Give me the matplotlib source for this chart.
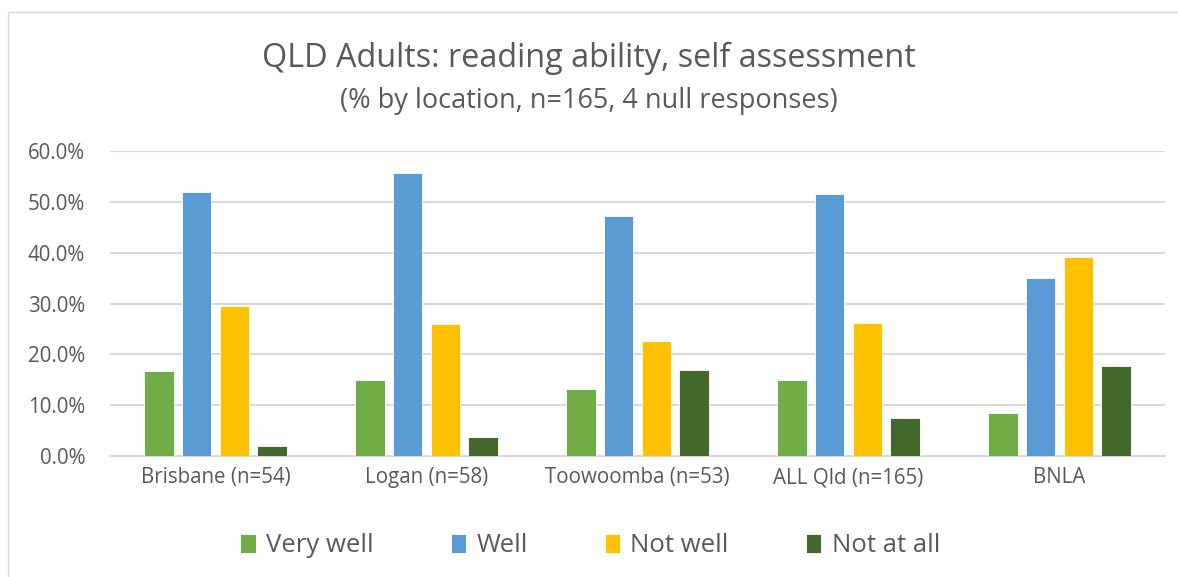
import matplotlib.pyplot as plt
import numpy as np
from matplotlib.patches import Rectangle

plt.rcParams['font.family'] = ['Open Sans', 'DejaVu Sans']

locations = ['Brisbane (n=54)', 'Logan (n=58)', 'Toowoomba (n=53)', 'ALL Qld (n=165)', 'BNLA']
very_well = [16.7, 14.9, 13.2, 15.0, 8.4]
well = [51.9, 55.6, 47.2, 51.6, 35.0]
not_well = [29.6, 25.9, 22.6, 26.1, 39.1]
not_at_all = [1.9, 3.7, 17.0, 7.5, 17.7]

series = [('Very well', very_well, '#70AD47'),
          ('Well', well, '#5B9BD5'),
          ('Not well', not_well, '#FFC000'),
          ('Not at all', not_at_all, '#43682B')]

W, H = 1178, 577
fig = plt.figure(figsize=(W / 100, H / 100), dpi=100)
ax = fig.add_axes([110 / W, 1 - 456 / H, (1165 - 110) / W, (456 - 151) / H])

x = np.arange(len(locations))
pitch = 0.18
width = 0.142
for i, (name, vals, col) in enumerate(series):
    ax.bar(x + (i - 1.5) * pitch, vals, width, color=col, label=name,
           edgecolor='white', linewidth=0.6, zorder=3)

ax.set_xlim(-0.5, len(locations) - 0.5)
ax.set_ylim(0, 60)
ax.set_yticks(np.arange(0, 61, 10))
ax.set_yticklabels([f'{v:.1f}%' for v in range(0, 61, 10)])
ax.set_xticks(x)
ax.set_xticklabels(locations)
ax.tick_params(axis='both', length=0, labelsize=14.8, colors='#595959')
ax.tick_params(axis='x', pad=8)
ax.tick_params(axis='y', pad=18)
ax.grid(axis='y', color='#D9D9D9', linewidth=1.5, zorder=0)
for s in ['top', 'right', 'left']:
    ax.spines[s].set_visible(False)
ax.spines['bottom'].set_color('#D9D9D9')
ax.spines['bottom'].set_linewidth(1.5)

fig.text(0.5, 1 - 58 / H, 'QLD Adults: reading ability, self assessment',
         ha='center', va='center', fontsize=23.3, color='#595959')
fig.text(0.5, 1 - 101 / H, '(% by location, n=165, 4 null responses)',
         ha='center', va='center', fontsize=19.5, color='#595959')

fig.legend(loc='center', bbox_to_anchor=(590 / W, 1 - 546 / H), ncol=4, frameon=False,
           fontsize=18.5, labelcolor='#595959', handlelength=0.6, handleheight=0.75,
           handletextpad=0.4, columnspacing=3.0)

fig.patches.append(Rectangle((8 / W, -0.1), 1.2, 1 - 12 / H + 0.1, transform=fig.transFigure,
                             fill=False, edgecolor='#D9D9D9', linewidth=1))

fig.savefig('out.png', dpi=100)
